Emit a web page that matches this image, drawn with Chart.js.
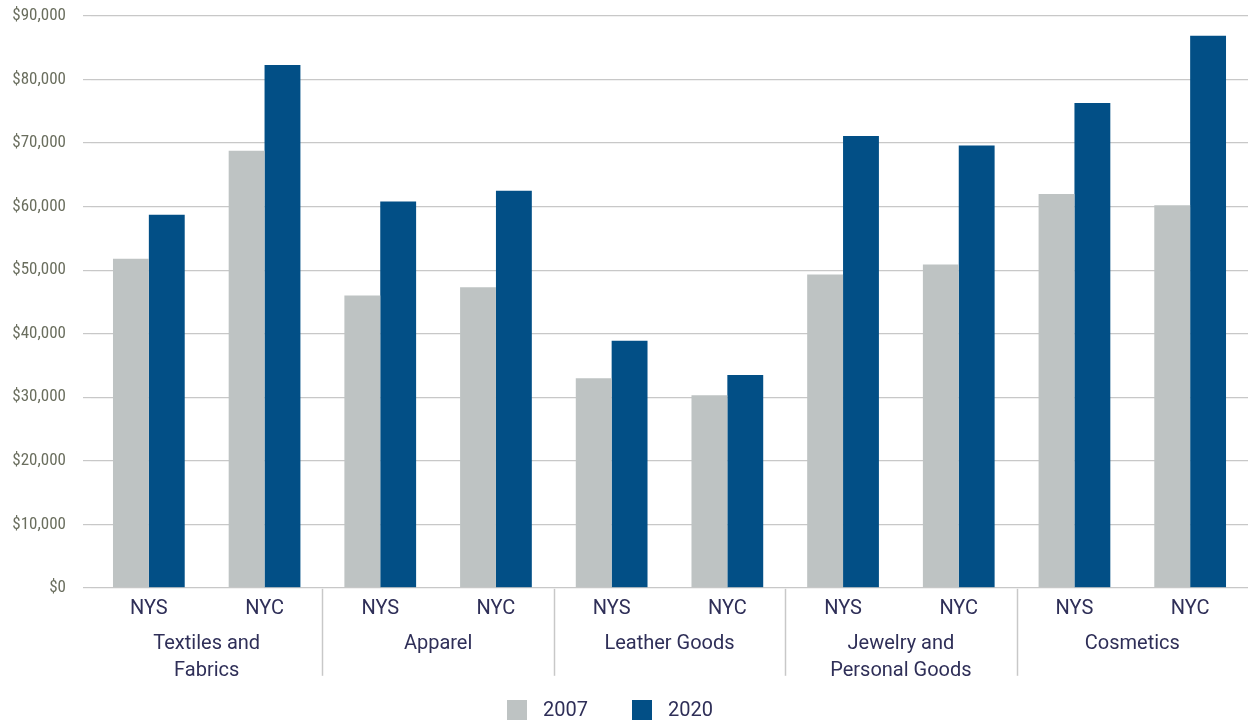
<!DOCTYPE html>
<html>
<head>
<meta charset="utf-8">
<script src="https://cdn.jsdelivr.net/npm/chart.js@4.4.1/dist/chart.umd.min.js"></script>
<style>
  html, body { margin: 0; padding: 0; background: #ffffff; }
  #wrap { width: 1248px; height: 723px; position: relative; }
</style>
</head>
<body>
<div id="wrap"><canvas id="wageChart"></canvas></div>
<script>
// values
const regions = ["NYS", "NYC", "NYS", "NYC", "NYS", "NYC", "NYS", "NYC", "NYS", "NYC"];
const industries = [["Textiles and", "Fabrics"], "Apparel", "Leather Goods", ["Jewelry and", "Personal Goods"], "Cosmetics"];
const wages2007 = [51800, 68800, 46000, 47300, 33000, 30300, 49300, 50900, 62000, 60200];
const wages2020 = [58700, 82300, 60800, 62500, 38900, 33500, 71100, 69600, 76300, 86900];
const yTicks = [0, 10000, 20000, 30000, 40000, 50000, 60000, 70000, 80000, 90000];

const gridGray = "#c8c8c8";
const labelNavy = "#2f2f58";
const tickGreen = "#6a6e5e";
const labelFont = "20px Roboto";

// vertical separators between industry groups, placed from the x scale
const groupSeparators = {
    id: "groupSeparators",
    afterDraw(chart) {
        const x = chart.scales.x;
        const ctx = chart.ctx;
        ctx.save();
        ctx.strokeStyle = gridGray;
        ctx.lineWidth = 1.5;
        for (let i = 2; i < regions.length; i += 2) {
            const px = Math.round((x.getPixelForValue(i - 1) + x.getPixelForValue(i)) / 2) + 0.5;
            ctx.beginPath();
            ctx.moveTo(px, chart.chartArea.bottom + 1);
            ctx.lineTo(px, chart.chartArea.bottom + 88);
            ctx.stroke();
        }
        ctx.restore();
    }
};

// legend row under the axis, spaced like the original
const wideLegend = {
    id: "wideLegend",
    afterDraw(chart) {
        const ctx = chart.ctx;
        const startX = [507, 632];
        const cy = chart.height - 13;
        ctx.save();
        ctx.font = labelFont;
        ctx.textBaseline = "middle";
        chart.data.datasets.forEach((ds, i) => {
            ctx.fillStyle = ds.backgroundColor;
            ctx.fillRect(startX[i], cy - 10, 20, 20);
            ctx.fillStyle = labelNavy;
            ctx.fillText(ds.label, startX[i] + 36, cy + 1);
        });
        ctx.restore();
    }
};

new Chart(document.getElementById("wageChart"), {
    type: "bar",
    data: {
        labels: regions,
        datasets: [
            {
                label: "2007",
                data: wages2007,
                backgroundColor: "#bec3c3",
                barPercentage: 1,
                categoryPercentage: 0.62
            },
            {
                label: "2020",
                data: wages2020,
                backgroundColor: "#024f86",
                barPercentage: 1,
                categoryPercentage: 0.62
            }
        ]
    },
    options: {
        responsive: true,
        maintainAspectRatio: false,
        animation: false,
        layout: {
            padding: { top: 16, left: 0, right: 0, bottom: 39 }
        },
        plugins: {
            tooltip: { enabled: false },
            legend: { display: false }
        },
        scales: {
            x: {
                type: "category",
                position: "bottom",
                grid: { display: false, drawTicks: false },
                border: { display: false },
                ticks: {
                    color: labelNavy,
                    padding: 21,
                    maxRotation: 0,
                    autoSkip: false,
                    font: { family: "Roboto", size: 20, lineHeight: 0.01 }
                }
            },
            x2: {
                type: "category",
                position: "bottom",
                labels: industries,
                offset: true,
                grid: { display: false, drawTicks: false },
                border: { display: false },
                ticks: {
                    color: labelNavy,
                    padding: 0,
                    maxRotation: 0,
                    autoSkip: false,
                    font: { family: "Roboto", size: 20, lineHeight: 1.35 }
                }
            },
            y: {
                min: 0,
                max: 90000,
                afterBuildTicks(scale) {
                    scale.ticks = yTicks.map(v => ({ value: v }));
                },
                afterFit(scale) {
                    scale.width = 91;
                    scale.paddingTop = 0;
                    scale.paddingBottom = 0;
                },
                grid: { color: gridGray, lineWidth: 1.2, tickLength: 8 },
                border: { display: false },
                ticks: {
                    color: tickGreen,
                    padding: 17,
                    font: { family: "'Liberation Sans Narrow', 'Roboto Condensed', Roboto", size: 17 },
                    callback: v => "$" + Number(v).toLocaleString("en-US")
                }
            }
        }
    },
    plugins: [groupSeparators, wideLegend]
});
</script>
</body>
</html>
